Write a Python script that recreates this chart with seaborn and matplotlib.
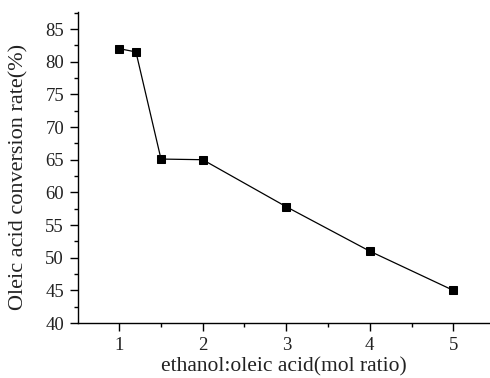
import matplotlib
matplotlib.use("Agg")
import matplotlib.pyplot as plt
from matplotlib.ticker import MultipleLocator
import seaborn as sns
import pandas as pd

ratio = [1, 1.2, 1.5, 2, 3, 4, 5]
conversion = [82.0, 81.5, 65.1, 65.0, 57.8, 51.0, 45.0]
x_label = "ethanol:oleic acid(mol ratio)"
y_label = "Oleic acid conversion rate(%)"

sns.set_theme(style="ticks")
plt.rcParams['font.family'] = ['Liberation Serif', 'DejaVu Serif']

df = pd.DataFrame({"ratio": ratio, "conv": conversion})

fig = plt.figure(figsize=(4.9, 3.78), dpi=100)
ax = fig.add_axes([0.159, 0.1455, 0.841, 0.8225])
sns.lineplot(data=df, x="ratio", y="conv", ax=ax, color="black", linewidth=0.9,
             marker="s", markersize=6, markerfacecolor="black", markeredgecolor="black")

ax.set_xlim(0.505, 5.44)
ax.set_ylim(40, 87.6)
ax.xaxis.set_major_locator(MultipleLocator(1))
ax.xaxis.set_minor_locator(MultipleLocator(0.5))
ax.yaxis.set_major_locator(MultipleLocator(5))
ax.yaxis.set_minor_locator(MultipleLocator(2.5))
ax.tick_params(which="major", direction="out", length=6, width=1, color="black",
               labelsize=13.5, labelcolor="#222222")
ax.tick_params(axis="y", which="major", pad=4)
ax.tick_params(axis="x", which="major", pad=4)
ax.tick_params(which="minor", direction="out", length=3, width=1, color="black")
for s in ["top", "right"]:
    ax.spines[s].set_visible(False)
for s in ["left", "bottom"]:
    ax.spines[s].set_color("black")
    ax.spines[s].set_linewidth(1)
ax.set_xlabel(x_label, fontsize=15.5, color="#222222")
ax.set_ylabel(y_label, fontsize=16, color="#222222")
ax.xaxis.set_label_coords(0.5, -0.155)
ax.xaxis.label.set_verticalalignment("baseline")
ax.yaxis.set_label_coords(-0.143, 0.47)
ax.yaxis.label.set_verticalalignment("center")

fig.savefig("out.png", dpi=100)
